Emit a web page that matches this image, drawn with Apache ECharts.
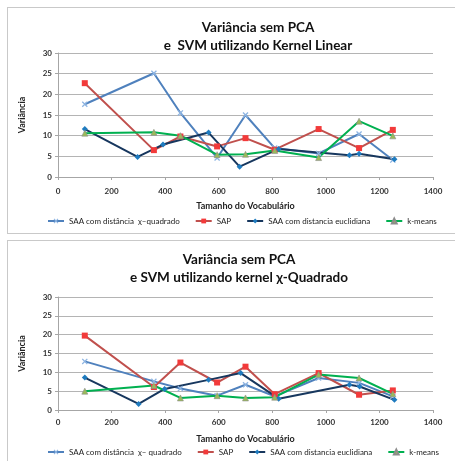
<!DOCTYPE html>
<html>
<head>
<meta charset="utf-8">
<script src="https://cdn.jsdelivr.net/npm/echarts@6/dist/echarts.min.js"></script>
<style>
  html, body { margin: 0; padding: 0; background: #fff; overflow: hidden; }
  .panel { position: absolute; left: 7px; border: 1px solid #c9c9c9; box-sizing: border-box; background: #fff; }
  #p1 { top: 7px; width: 460px; height: 227px; }
  #p2 { top: 240px; width: 460px; height: 240px; }
  .chart { width: 458px; height: 238px; }
</style>
</head>
<body>
<div class="panel" id="p1"><div class="chart" id="c1"></div></div>
<div class="panel" id="p2"><div class="chart" id="c2"></div></div>
<script>
// nomes das séries
var nomesSeries = ['SAA com distância  \u03c7\u2013quadrado', 'SAP', 'SAA com distancia euclidiana', 'k-means'];
var nomesSeries2 = ['SAA com distância  \u03c7\u2013 quadrado', 'SAP', 'SAA com distancia euclidiana', 'k-means'];

// tamanho do vocabulário (eixo x)
var vocab = [100, 358, 457, 594, 700, 809, 973, 1124, 1250];
var vocabEuclid1 = [100, 297, 392, 562, 678, 824, 1088, 1124, 1256];
var vocabEuclid2 = [100, 301, 398, 562, 682, 824, 1088, 1126, 1256];

// gráfico 1 - Kernel Linear
var chi1 = [17.6, 25.1, 15.5, 4.6, 15.0, 7.0, 5.7, 10.4, 4.1];
var sap1 = [22.7, 6.5, 9.8, 7.4, 9.4, 6.6, 11.6, 7.0, 11.4];
var euc1 = [11.6, 4.85, 7.85, 10.75, 2.5, 6.8, 5.25, 5.6, 4.3];
var km1 = [10.6, 10.8, 10.0, 5.4, 5.5, 6.4, 4.7, 13.5, 9.95];

// gráfico 2 - kernel chi-quadrado
var chi2 = [12.9, 7.6, 5.7, 3.8, 6.7, 3.6, 8.5, 7.2, 3.6];
var sap2 = [19.75, 6.1, 12.6, 7.3, 11.5, 4.2, 9.8, 4.05, 5.2];
var euc2 = [8.6, 1.6, 5.6, 8.0, 9.8, 3.0, 6.7, 6.25, 2.7];
var km2 = [5.0, 6.5, 3.2, 3.8, 3.2, 3.4, 9.4, 8.5, 4.3];

var simboloX = 'path://M0,1.5L1.5,0L5,3.5L8.5,0L10,1.5L6.5,5L10,8.5L8.5,10L5,6.5L1.5,10L0,8.5L3.5,5Z';

function pares(xs, ys) {
  return xs.map(function (x, i) { return [x, ys[i]]; });
}

function montaOpcao(cfg) {
  return {
    animation: false,
    textStyle: { fontFamily: 'Lato, sans-serif' },
    title: {
      text: cfg.titulo,
      left: cfg.tituloX,
      top: cfg.tituloTop,
      textAlign: 'center',
      textStyle: { fontSize: 13.5, fontWeight: 'bold', color: '#111', lineHeight: 18, fontFamily: 'Lato, sans-serif' }
    },
    grid: { left: 50, top: cfg.gridTop, width: 375, height: cfg.gridH },
    legend: {
      left: 39,
      top: cfg.legTop,
      padding: 0,
      itemWidth: 16,
      itemHeight: 6,
      itemGap: 15,
      textStyle: { fontSize: 8, color: '#222' },
      data: cfg.nomes
    },
    xAxis: {
      type: 'value', min: 0, max: 1400, interval: 200,
      name: 'Tamanho do Vocabulário', nameLocation: 'middle', nameGap: cfg.xNameGap,
      nameTextStyle: { fontSize: 9, fontWeight: 'bold', color: '#222' },
      axisLine: { show: true, lineStyle: { color: '#a6a6a6' } },
      axisTick: { show: true, length: 3, lineStyle: { color: '#a6a6a6' } },
      axisLabel: { fontSize: 8, fontWeight: 'bold', color: '#333', margin: cfg.xLabMargin,
        formatter: function (v) { return String(v); } },
      splitLine: { show: false }
    },
    yAxis: {
      type: 'value', min: 0, max: 30, interval: 5,
      name: 'Variância', nameLocation: 'middle', nameGap: 31,
      nameTextStyle: { fontSize: 9, fontWeight: 'bold', color: '#222' },
      axisLine: { show: true, lineStyle: { color: '#a6a6a6' } },
      axisTick: { show: true, length: 3, lineStyle: { color: '#a6a6a6' } },
      axisLabel: { fontSize: 8, fontWeight: 'bold', color: '#333', margin: 6 },
      splitLine: { lineStyle: { color: '#b4b4b4', width: 1 } }
    },
    series: [
      {
        name: cfg.nomes[0], type: 'line', data: pares(vocab, cfg.chi),
        symbol: simboloX, symbolSize: 6,
        lineStyle: { color: '#4f81bd', width: 2 },
        itemStyle: { color: '#8db4e2' }
      },
      {
        name: cfg.nomes[1], type: 'line', data: pares(vocab, cfg.sap),
        symbol: 'rect', symbolSize: 6,
        lineStyle: { color: '#c0504d', width: 2 },
        itemStyle: { color: '#f23a3a' }
      },
      {
        name: cfg.nomes[2], type: 'line', data: pares(cfg.eucX, cfg.euc),
        symbol: 'diamond', symbolSize: 6,
        lineStyle: { color: '#17375e', width: 2 },
        itemStyle: { color: '#1f7bbf' }
      },
      {
        name: cfg.nomes[3], type: 'line', data: pares(vocab, cfg.km),
        symbol: 'triangle', symbolSize: 6,
        lineStyle: { color: '#00b050', width: 2 },
        itemStyle: { color: '#9bbb59', borderColor: '#8c8c8c', borderWidth: 0.6 }
      }
    ]
  };
}

var grafico1 = echarts.init(document.getElementById('c1'));
grafico1.setOption(montaOpcao({
  titulo: 'Variância sem PCA\ne  SVM utilizando Kernel Linear',
  tituloX: 245, tituloTop: 6,
  gridTop: 45, gridH: 124,
  legTop: 209, xNameGap: 25, xLabMargin: 10,
  nomes: nomesSeries,
  chi: chi1, sap: sap1, eucX: vocabEuclid1, euc: euc1, km: km1
}));

var grafico2 = echarts.init(document.getElementById('c2'));
grafico2.setOption(montaOpcao({
  titulo: 'Variância sem PCA\ne SVM utilizando kernel \u03c7-Quadrado',
  tituloX: 226, tituloTop: 5,
  gridTop: 56, gridH: 113,
  legTop: 207, xNameGap: 25, xLabMargin: 8,
  nomes: nomesSeries2,
  chi: chi2, sap: sap2, eucX: vocabEuclid2, euc: euc2, km: km2
}));
</script>
</body>
</html>
